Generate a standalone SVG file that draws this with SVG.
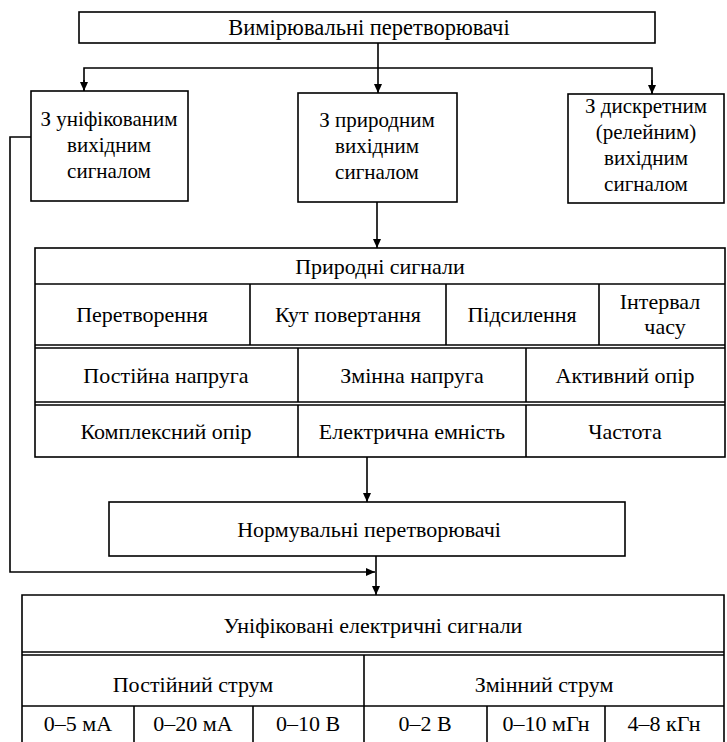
<svg xmlns="http://www.w3.org/2000/svg" width="727" height="742" viewBox="0 0 727 742">
<style>
.b{fill:#fff;stroke:#000;stroke-width:1.6}
.l{fill:none;stroke:#000;stroke-width:1.6}
.t{font-family:"Liberation Serif","Times New Roman",serif;font-size:21px;fill:#000;text-anchor:middle}
.s{font-size:22px}
.h{font-size:22.5px}
</style>
<defs>
<marker id="ar" markerWidth="10" markerHeight="10" refX="9" refY="5" orient="auto" markerUnits="userSpaceOnUse">
<path d="M0,1 L9,5 L0,9 Z" fill="#000"/>
</marker>
</defs>
<rect width="727" height="742" fill="#fff"/>

<g id="connectors">
<line class="l" x1="378" y1="43" x2="378" y2="93" marker-end="url(#ar)"/>
<polyline class="l" points="84,91 84,68 652,68 652,94"/>
<line class="l" x1="84" y1="80" x2="84" y2="91" marker-end="url(#ar)"/>
<line class="l" x1="652" y1="80" x2="652" y2="94" marker-end="url(#ar)"/>
<line class="l" x1="377" y1="202" x2="377" y2="248" marker-end="url(#ar)"/>
<line class="l" x1="367" y1="457" x2="367" y2="502" marker-end="url(#ar)"/>
<line class="l" x1="376" y1="556" x2="376" y2="595" marker-end="url(#ar)"/>
<polyline class="l" points="31,137 10,137 10,572 375,572" marker-end="url(#ar)"/>
</g>

<g id="n-top">
<rect class="b" x="79" y="12" width="576" height="31"/>
<text class="t h" x="369" y="35">Вимірювальні перетворювачі</text>
</g>

<g id="n-unified-out">
<rect class="b" x="31" y="91" width="157" height="110"/>
<text class="t" x="109" y="126">З уніфікованим</text>
<text class="t" x="109" y="152">вихідним</text>
<text class="t" x="109" y="178">сигналом</text>
</g>

<g id="n-natural-out">
<rect class="b" x="298" y="93" width="159" height="109"/>
<text class="t" x="377" y="127">З природним</text>
<text class="t" x="377" y="153">вихідним</text>
<text class="t" x="377" y="179">сигналом</text>
</g>

<g id="n-discrete-out">
<rect class="b" x="568" y="94" width="156" height="109"/>
<text class="t" x="646" y="113">З дискретним</text>
<text class="t" x="646" y="139">(релейним)</text>
<text class="t" x="646" y="165">вихідним</text>
<text class="t" x="646" y="191">сигналом</text>
</g>

<g id="n-natural-signals">
<rect class="b" x="35" y="248" width="690" height="209"/>
<line class="l" x1="35" y1="284" x2="725" y2="284" stroke-width="2.6"/>
<line class="l" x1="35" y1="345" x2="725" y2="345"/>
<line class="l" x1="35" y1="348" x2="725" y2="348"/>
<line class="l" x1="35" y1="402" x2="725" y2="402"/>
<line class="l" x1="35" y1="405" x2="725" y2="405"/>
<line class="l" x1="250" y1="284" x2="250" y2="345"/>
<line class="l" x1="446" y1="284" x2="446" y2="345"/>
<line class="l" x1="599" y1="284" x2="599" y2="345"/>
<line class="l" x1="298" y1="348" x2="298" y2="402"/>
<line class="l" x1="526" y1="348" x2="526" y2="402"/>
<line class="l" x1="298" y1="405" x2="298" y2="457"/>
<line class="l" x1="526" y1="405" x2="526" y2="457"/>
<text class="t s" x="380" y="274">Природні сигнали</text>
<text class="t s" x="142" y="322">Перетворення</text>
<text class="t s" x="348" y="322">Кут повертання</text>
<text class="t s" x="522" y="322">Підсилення</text>
<text class="t s" x="660" y="309">Інтервал</text>
<text class="t s" x="665" y="334">часу</text>
<text class="t s" x="166" y="383">Постійна напруга</text>
<text class="t s" x="412" y="383">Змінна напруга</text>
<text class="t s" x="625" y="383">Активний опір</text>
<text class="t s" x="166" y="439">Комплексний опір</text>
<text class="t s" x="412" y="439">Електрична емність</text>
<text class="t s" x="625" y="439">Частота</text>
</g>

<g id="n-normalizing">
<rect class="b" x="109" y="502" width="516" height="54"/>
<text class="t s" x="369" y="537">Нормувальні перетворювачі</text>
</g>

<g id="n-unified-signals">
<polyline class="l" points="22,742 22,595 724,595 724,742"/>
<line class="l" x1="22" y1="652" x2="724" y2="652"/>
<line class="l" x1="22" y1="655" x2="724" y2="655"/>
<line class="l" x1="22" y1="706" x2="724" y2="706" stroke-width="2.6"/>
<line class="l" x1="364" y1="655" x2="364" y2="742"/>
<line class="l" x1="134" y1="706" x2="134" y2="742"/>
<line class="l" x1="253" y1="706" x2="253" y2="742"/>
<line class="l" x1="487" y1="706" x2="487" y2="742"/>
<line class="l" x1="605" y1="706" x2="605" y2="742"/>
<text class="t s" x="373" y="633">Уніфіковані електричні сигнали</text>
<text class="t s" x="193" y="692">Постійний струм</text>
<text class="t s" x="544" y="692">Змінний струм</text>
<text class="t s" x="78" y="731">0–5 мА</text>
<text class="t s" x="193" y="731">0–20 мА</text>
<text class="t s" x="308" y="731">0–10 В</text>
<text class="t s" x="425" y="731">0–2 В</text>
<text class="t s" x="546" y="731">0–10 мГн</text>
<text class="t s" x="664" y="731">4–8 кГн</text>
</g>
</svg>
